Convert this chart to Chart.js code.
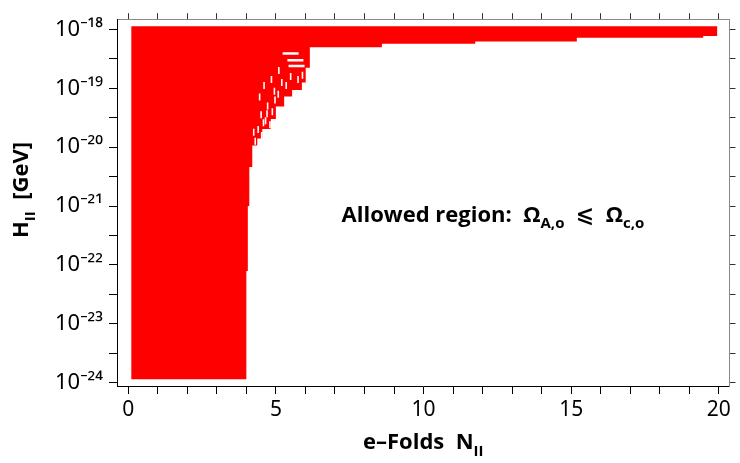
<!DOCTYPE html>
<html>
<head>
<meta charset="utf-8">
<script src="https://cdn.jsdelivr.net/npm/chart.js@4.4.1/dist/chart.umd.min.js"></script>
<style>
  html, body { margin: 0; padding: 0; background: #fff; }
  #wrap { width: 740px; height: 463px; }
</style>
</head>
<body>
<div id="wrap"><canvas id="chart" width="740" height="463"></canvas></div>
<script>
// lower edge of the allowed region (stepped, H in GeV)
const edgeN = [0.1, 4.0, 4.05, 4.1, 4.2, 4.37, 4.54, 4.83, 5.0, 5.28, 5.55, 5.88, 6.01, 6.15, 8.59, 11.75, 15.19, 19.47, 19.95]
const edgeH = [1.15e-24, 7.9e-23, 1.0e-21, 4.6e-21, 1.07e-20, 1.41e-20, 2.04e-20, 3.02e-20, 4.9e-20, 7.24e-20, 9.33e-20, 1.26e-19, 2.24e-19, 5.0e-19, 5.68e-19, 6.25e-19, 7.19e-19, 7.76e-19, 7.76e-19]
// upper edge of the region
const topH = 1.13e-18

// unsampled specks inside the ragged part of the region
const gapN = [4.30, 4.40, 4.50, 4.58, 4.65, 4.72, 4.80, 4.88, 4.97, 5.08, 4.45, 4.60, 4.85, 5.20, 5.35, 5.50, 5.10, 4.95, 5.75, 5.90, 4.25, 4.52, 4.70]
const gapH = [1.26e-20, 2.0e-20, 3.55e-20, 2.6e-20, 2.82e-20, 5.01e-20, 2.4e-20, 3.98e-20, 6.31e-20, 7.94e-20, 7.08e-20, 1.12e-19, 1.41e-19, 1.26e-19, 1.12e-19, 1.58e-19, 2.0e-19, 8.91e-20, 1.41e-19, 1.66e-19, 1.8e-20, 1.58e-20, 3.7e-20]
const streakN = [5.5, 5.66, 5.7]
const streakH = [3.9e-19, 3.0e-19, 2.4e-19]

const xTickValues = [0, 5, 10, 15, 20]
const yTickValues = [1e-24, 1e-23, 1e-22, 1e-21, 1e-20, 1e-19, 1e-18]
const yTickLabels = ['10⁻²⁴', '10⁻²³', '10⁻²²', '10⁻²¹', '10⁻²⁰', '10⁻¹⁹', '10⁻¹⁸']
const yMinorValues = [3.16e-24, 3.16e-23, 3.16e-22, 3.16e-21, 3.16e-20, 3.16e-19]

const FONT = "'Noto Sans', 'DejaVu Sans', sans-serif"
const TITLE_FONT = "'Open Sans', 'DejaVu Sans', sans-serif"
const RED = '#ff0000'

const xRange = { min: -0.38, max: 20.36 }
const yRange = { min: 8.8e-25, max: 1.49e-18 }

const allYTicks = yTickValues.concat(yMinorValues).sort((a, b) => a - b)

// text pieces: [string, isSubscript]
const xTitle = [['e–Folds  N', false], ['II', true]]
const yTitle = [['H', false], ['II', true], ['  [GeV]', false]]
const annoText = [['Allowed region:  Ω', false], ['A,o', true], ['  ⩽  Ω', false], ['c,o', true]]
const annoAt = { x: 12.35, y: 5.4e-22 }

function drawRich(ctx, parts, x, y, size) {
  const subSize = Math.round(size * 0.66)
  const widths = parts.map(([t, sub]) => {
    ctx.font = `bold ${sub ? subSize : size}px ${TITLE_FONT}`
    return ctx.measureText(t).width
  })
  let cx = x - widths.reduce((a, b) => a + b, 0) / 2
  parts.forEach(([t, sub], i) => {
    ctx.font = `bold ${sub ? subSize : size}px ${TITLE_FONT}`
    ctx.fillText(t, cx, sub ? y + size * 0.3 : y)
    cx += widths[i]
  })
}

const textPlugin = {
  id: 'richText',
  afterDraw(chart) {
    const { ctx, chartArea, scales } = chart
    ctx.save()
    ctx.fillStyle = '#000'
    ctx.textAlign = 'left'
    ctx.textBaseline = 'alphabetic'
    drawRich(ctx, xTitle, (chartArea.left + chartArea.right) / 2, 449, 22)
    drawRich(ctx, annoText, scales.x.getPixelForValue(annoAt.x), scales.y.getPixelForValue(annoAt.y), 22)
    ctx.translate(28, 190)
    ctx.rotate(-Math.PI / 2)
    drawRich(ctx, yTitle, 0, 0, 22)
    ctx.restore()
  }
}

const tickFont = { family: FONT, size: 21 }

const yTicksSetter = (axis) => { axis.ticks = allYTicks.map((v) => ({ value: v })) }

new Chart(document.getElementById('chart'), {
  type: 'line',
  data: {
    datasets: [
      {
        label: 'streaks',
        data: streakN.map((n, i) => ({ x: n, y: streakH[i] })),
        showLine: false,
        pointStyle: 'line',
        pointRadius: 8,
        pointBorderColor: '#fff',
        pointBorderWidth: 2.5,
        order: 1,
      },
      {
        label: 'gaps',
        data: gapN.map((n, i) => ({ x: n, y: gapH[i] })),
        showLine: false,
        pointStyle: 'line',
        pointRotation: 90,
        pointRadius: 3.5,
        pointBorderColor: '#fff',
        pointBorderWidth: 1.6,
        order: 1,
      },
      {
        label: 'allowed',
        data: edgeN.map((n, i) => ({ x: n, y: edgeH[i] })),
        stepped: 'before',
        borderWidth: 0,
        pointRadius: 0,
        backgroundColor: RED,
        borderColor: RED,
        fill: { value: topH },
        order: 2,
      },
    ],
  },
  options: {
    responsive: false,
    animation: false,
    devicePixelRatio: 1,
    layout: { padding: 0 },
    plugins: {
      legend: { display: false },
      tooltip: { enabled: false },
    },
    scales: {
      x: {
        type: 'linear',
        position: 'bottom',
        ...xRange,
        afterFit: (s) => { s.height = 77 },
        ticks: {
          stepSize: 1,
          includeBounds: false,
          autoSkip: false,
          maxRotation: 0,
          padding: 3,
          color: '#000',
          font: tickFont,
          callback: (v) => (xTickValues.includes(v) ? String(v) : ''),
        },
        grid: { drawOnChartArea: false, tickLength: 8, color: '#000' },
        border: { color: '#000' },
      },
      x2: {
        type: 'linear',
        position: 'top',
        ...xRange,
        afterFit: (s) => { s.height = 7 },
        ticks: { display: false, stepSize: 1, includeBounds: false, autoSkip: false },
        grid: { drawOnChartArea: false, tickLength: 6, color: '#333' },
        border: { color: '#8a8a8a' },
      },
      y: {
        type: 'logarithmic',
        position: 'left',
        ...yRange,
        afterBuildTicks: yTicksSetter,
        afterFit: (s) => { s.width = 117 },
        ticks: {
          autoSkip: false,
          padding: 6,
          color: '#000',
          font: { family: FONT, size: 22 },
          callback: (v) => {
            const i = yTickValues.indexOf(v)
            return i >= 0 ? yTickLabels[i] : ''
          },
        },
        grid: { drawOnChartArea: false, tickLength: 8, color: '#000' },
        border: { color: '#000' },
      },
      y2: {
        type: 'logarithmic',
        position: 'right',
        ...yRange,
        afterBuildTicks: yTicksSetter,
        afterFit: (s) => { s.width = 7 },
        ticks: { display: false, autoSkip: false },
        grid: { drawOnChartArea: false, tickLength: 6, color: '#333' },
        border: { color: '#8a8a8a' },
      },
    },
  },
  plugins: [textPlugin],
})
</script>
</body>
</html>
